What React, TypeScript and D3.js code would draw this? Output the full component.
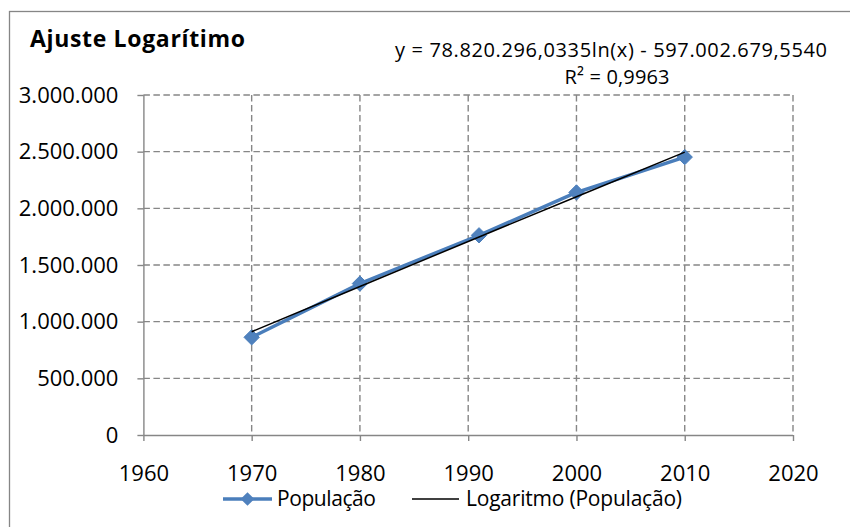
import React, { useEffect, useRef } from "react";
import * as d3 from "d3";

// values
const years = [1970, 1980, 1991, 2000, 2010];
const population = [862000, 1336000, 1762000, 2140000, 2452000];
const logTrend = [911500, 1310600, 1747300, 2102800, 2495900];
const xTicks = [1960, 1970, 1980, 1990, 2000, 2010, 2020];
const yTicks = [0, 500000, 1000000, 1500000, 2000000, 2500000, 3000000];
const titleText = "Ajuste Logarítimo";
const equationText = "y = 78.820.296,0335ln(x) - 597.002.679,5540";
const r2Text = "R² = 0,9963";
const legendLabels = ["População", "Logaritmo (População)"];

const fmt = (v: number) => d3.format(",")(v).replace(/,/g, ".");

const App = () => {
  const svgRef = useRef<SVGSVGElement>(null);

  useEffect(() => {
    const svg = d3.select(svgRef.current);
    svg.selectAll("*").remove();

    const width = 850;
    const height = 527;
    const font = "'Open Sans', sans-serif";
    const gray = "#868686";
    const blue = "#4a7ebb";

    const x = d3.scaleLinear().domain([1960, 2020]).range([143.4, 793]);
    const y = d3.scaleLinear().domain([0, 3000000]).range([435, 95]);

    svg.append("rect")
      .attr("x", 0).attr("y", 0)
      .attr("width", width).attr("height", height)
      .attr("fill", "#fff");

    // chart frame (runs past the right / bottom edges like the original)
    svg.append("rect")
      .attr("x", 9.5).attr("y", 11.5)
      .attr("width", 880).attr("height", 560)
      .attr("fill", "none")
      .attr("stroke", gray)
      .attr("stroke-width", 1.3);

    // grid
    const grid = svg.append("g");
    yTicks.slice(1).forEach(t => {
      grid.append("line")
        .attr("x1", x(1960)).attr("x2", x(2020))
        .attr("y1", y(t)).attr("y2", y(t))
        .attr("stroke", gray).attr("stroke-width", 1.4)
        .attr("stroke-dasharray", "6.5,3.5");
    });
    xTicks.slice(1).forEach(t => {
      grid.append("line")
        .attr("x1", x(t)).attr("x2", x(t))
        .attr("y1", y(3000000)).attr("y2", y(0))
        .attr("stroke", gray).attr("stroke-width", 1.4)
        .attr("stroke-dasharray", "6.5,3.5");
    });

    // axes
    const yAxis = svg.append("g")
      .attr("transform", `translate(${x(1960)},0)`)
      .call(d3.axisLeft(y).tickValues(yTicks).tickSize(6).tickPadding(19).tickFormat(d => fmt(+d)));
    const xAxis = svg.append("g")
      .attr("transform", `translate(0,${y(0)})`)
      .call(d3.axisBottom(x).tickValues(xTicks).tickSize(6).tickPadding(24).tickFormat(d3.format("d")));
    [yAxis, xAxis].forEach(g => {
      g.select(".domain").attr("stroke", gray).attr("stroke-width", 1.4);
      g.selectAll(".tick line").attr("stroke", gray).attr("stroke-width", 1.4);
      g.selectAll("text")
        .attr("fill", "#000")
        .style("font-family", font)
        .style("font-size", "22px");
    });
    xAxis.select(".domain").attr("d", `M${x(1960)},0.5H${x(2020)}`);
    yAxis.select(".domain").attr("d", `M0.5,${y(3000000)}V${y(0)}`);

    // population series
    const line = d3.line<number>()
      .x((d, i) => x(years[i]))
      .y(d => y(d));
    svg.append("path")
      .datum(population)
      .attr("fill", "none")
      .attr("stroke", blue)
      .attr("stroke-width", 3.5)
      .attr("stroke-linejoin", "round")
      .attr("d", line);

    const diamond = d3.symbol().type(d3.symbolDiamond2).size(150);
    svg.append("g")
      .selectAll("path")
      .data(population)
      .join("path")
      .attr("transform", (d, i) => `translate(${x(years[i])},${y(d)})`)
      .attr("d", diamond)
      .attr("fill", "#4f81bd")
      .attr("stroke", blue)
      .attr("stroke-width", 1);

    // logarithmic trend line
    const trend = d3.line<number>()
      .x((d, i) => x(years[i]))
      .y(d => y(d))
      .curve(d3.curveMonotoneX);
    svg.append("path")
      .datum(logTrend)
      .attr("fill", "none")
      .attr("stroke", "#000")
      .attr("stroke-width", 1.5)
      .attr("d", trend);

    // title and equation
    svg.append("text")
      .attr("x", 30).attr("y", 47)
      .attr("textLength", 215)
      .style("font-family", font)
      .style("font-size", "23px")
      .style("font-weight", "bold")
      .text(titleText);
    svg.append("text")
      .attr("x", 611).attr("y", 57)
      .attr("text-anchor", "middle")
      .attr("textLength", 432)
      .style("font-family", font)
      .style("font-size", "20px")
      .text(equationText);
    svg.append("text")
      .attr("x", 617).attr("y", 84)
      .attr("text-anchor", "middle")
      .attr("textLength", 105)
      .style("font-family", font)
      .style("font-size", "20px")
      .text(r2Text);

    // legend
    const leg = svg.append("g");
    leg.append("line")
      .attr("x1", 223).attr("x2", 272).attr("y1", 499).attr("y2", 499)
      .attr("stroke", blue).attr("stroke-width", 3.5);
    leg.append("path")
      .attr("transform", "translate(247.5,499)")
      .attr("d", d3.symbol().type(d3.symbolDiamond2).size(120)())
      .attr("fill", "#4f81bd");
    leg.append("text")
      .attr("x", 277).attr("y", 506)
      .attr("textLength", 99)
      .style("font-family", font).style("font-size", "21px")
      .text(legendLabels[0]);
    leg.append("line")
      .attr("x1", 412).attr("x2", 459).attr("y1", 499).attr("y2", 499)
      .attr("stroke", "#000").attr("stroke-width", 1.5);
    leg.append("text")
      .attr("x", 466).attr("y", 506)
      .attr("textLength", 216)
      .style("font-family", font).style("font-size", "21px")
      .text(legendLabels[1]);
  }, []);

  return <svg ref={svgRef} width={850} height={527} style={{ position: "absolute", left: 0, top: 0 }} />;
};

export default App;
